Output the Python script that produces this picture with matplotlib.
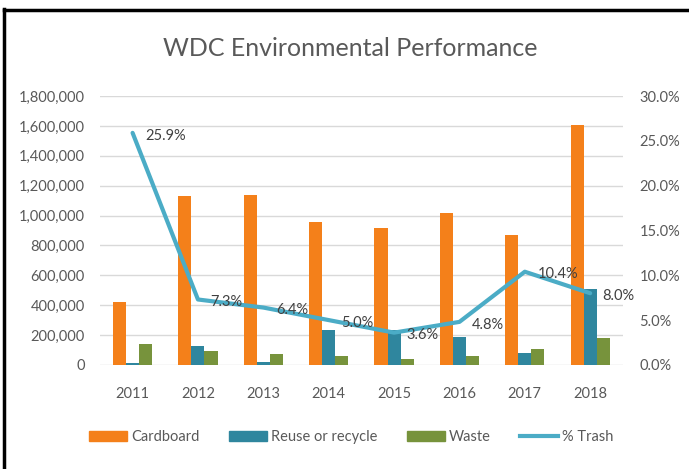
import matplotlib
matplotlib.use('Agg')
import matplotlib.pyplot as plt
from matplotlib.lines import Line2D
import numpy as np

plt.rcParams['font.family'] = ['Lato', 'DejaVu Sans']

years = ['2011', '2012', '2013', '2014', '2015', '2016', '2017', '2018']
cardboard = [420000, 1130000, 1140000, 955000, 915000, 1020000, 870000, 1610000]
reuse = [10000, 129000, 22000, 234000, 234000, 189000, 82000, 506000]
waste = [140000, 96000, 74000, 60000, 38000, 60000, 107000, 179000]
trash_pct = [25.9, 7.3, 6.4, 5.0, 3.6, 4.8, 10.4, 8.0]

c_card = '#F4801A'
c_reuse = '#2F869E'
c_waste = '#77933C'
c_line = '#4BACC6'
txt = '#595959'
fs = 10.5

fig = plt.figure(figsize=(6.89, 4.69), dpi=100)
ax = fig.add_axes([0.145, 0.222, 0.759, 0.573])
ax2 = ax.twinx()

x = np.arange(len(years))
w = 0.2
ax.bar(x - w, cardboard, w, color=c_card, label='Cardboard', zorder=2)
ax.bar(x, reuse, w, color=c_reuse, label='Reuse or recycle', zorder=2)
ax.bar(x + w, waste, w, color=c_waste, label='Waste', zorder=2)

ax2.plot(x, trash_pct, color=c_line, lw=3, solid_capstyle='round', zorder=3)
for xi, v in zip(x, trash_pct):
    ax2.annotate(f'{v:.1f}%', (xi, v), xytext=(9, -2), textcoords='offset points',
                 ha='left', va='center', fontsize=fs, color='#404040')

ax.set_xlim(-0.5, len(years) - 0.5)
ax.set_ylim(0, 1800000)
ax.set_yticks(np.arange(0, 1800001, 200000))
ax.set_yticklabels([f'{int(t):,}' for t in np.arange(0, 1800001, 200000)])
ax2.set_ylim(0, 30)
ax2.set_yticks(np.arange(0, 30.1, 5))
ax2.set_yticklabels([f'{t:.1f}%' for t in np.arange(0, 30.1, 5)])
ax.set_xticks(x)
ax.set_xticklabels(years)

ax.grid(axis='y', color='#D9D9D9', lw=1, zorder=0)
ax.set_axisbelow(True)
for a in (ax, ax2):
    for s in a.spines.values():
        s.set_visible(False)
ax.tick_params(axis='y', length=0, pad=11, labelsize=fs, labelcolor=txt)
ax.tick_params(axis='x', length=0, pad=16, labelsize=fs, labelcolor=txt)
ax2.tick_params(axis='y', length=0, pad=12, labelsize=fs, labelcolor=txt)

fig.text(0.508, 0.897, 'WDC Environmental Performance', ha='center', va='center',
         fontsize=18, color=txt)

handles = [plt.Rectangle((0, 0), 1, 1, color=c_card),
           plt.Rectangle((0, 0), 1, 1, color=c_reuse),
           plt.Rectangle((0, 0), 1, 1, color=c_waste),
           Line2D([0], [0], color=c_line, lw=3)]
labels = ['Cardboard', 'Reuse or recycle', 'Waste', '% Trash']
fig.legend(handles, labels, loc='center', bbox_to_anchor=(0.51, 0.068), ncol=4,
           frameon=False, fontsize=fs, labelcolor=txt, handlelength=2.6,
           handleheight=0.7, handletextpad=0.3, columnspacing=2.0)

# black frame on top and left edges
fig.add_artist(Line2D([0.0065, 0.0065], [0, 0.98], transform=fig.transFigure, color='black', lw=2.5))
fig.add_artist(Line2D([0.0065, 1], [0.978, 0.978], transform=fig.transFigure, color='black', lw=2.5))

fig.savefig('out.png', dpi=100)
